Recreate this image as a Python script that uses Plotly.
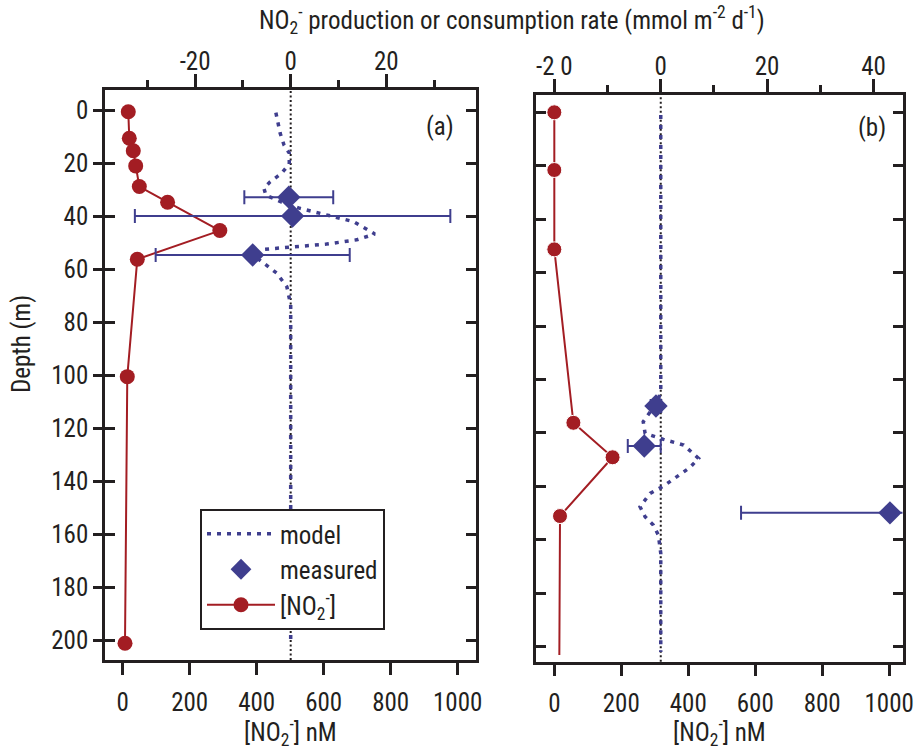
import plotly.graph_objects as go

# ---------------- data ----------------
# Panel (a)
no2_a_conc = [16.7, 19.7, 31.6, 38.8, 49.6, 134, 290, 43.6, 13.7, 6.9]
no2_a_depth = [0.5, 10.5, 15.2, 20.9, 28.7, 34.6, 45.3, 56.1, 100.4, 201]

meas_a_rate = [-0.4, 0.4, -7.95]
meas_a_depth = [32.7, 39.8, 54.5]
meas_a_err = [9.3, 33.0, 20.3]

model_a_rate = [-3.1, -2.2, -1.4, -0.3, -0.3, -1.9, -4.3, -5.6, -5.2, -2.0, 1.9, 7.5, 13.1,
                17.6, 13.8, 7.5, -0.1, -5.7, -7.5, -5.7, -2.9, -0.8, 0.0, 0.0]
model_a_depth = [0.8, 8.6, 13.0, 16.1, 20.2, 23.7, 26.9, 29.3, 31.9, 34.5, 36.9, 39.4, 41.9,
                 46.6, 48.8, 50.4, 51.4, 52.4, 55.0, 57.6, 61.4, 66.5, 73.4, 200]

# Panel (b)
no2_b_conc = [0, 0, 0, 57, 174, 17, 15]
no2_b_depth = [0, 21.6, 51.3, 116.2, 129.1, 151.1, 203.1]

meas_b_rate = [-0.9, -3.1, 43.1]
meas_b_depth = [109.9, 124.9, 149.9]
meas_b_err = [1.0, 3.1, 28.0]

model_b_rate = [0.0, 0.0, -0.5, -2.0, -3.3, -2.95, 0.5, 4.3, 7.1, 5.5, 3.0, 0.5, -2.0, -3.9,
                -2.95, -1.4, -0.45, 0.0, 0.0]
model_b_depth = [1.0, 104, 108, 112, 115.8, 120.1, 122.4, 124.5, 129.5, 132.9, 136.4, 139.9,
                 142.6, 147.6, 151.3, 154.5, 158.2, 165, 202]

depth_ticks = [0, 20, 40, 60, 80, 100, 120, 140, 160, 180, 200]
conc_ticks = [0, 200, 400, 600, 800, 1000]
rate_a_ticks = [-20, 0, 20]
rate_a_ticktext = ["-20", "0", "20"]
rate_a_minor = [-30, -10, 10, 30]
rate_b_ticks = [-20, 0, 20, 40]
rate_b_ticktext = ["-2 0", "0", "20", "40"]
rate_b_minor = [-10, 10, 30]

# ---------------- style ----------------
BLUE = "#3F3E8E"
RED = "#A31D23"
INK = "#231F20"
FONT = "Roboto Condensed, Roboto, sans-serif"
FS = 25
W, H = 916, 749

def px_x(p):
    return p / W

def px_y(p):
    return 1 - p / H

fig = go.Figure()

# Panel (a)
fig.add_trace(go.Scatter(x=model_a_rate, y=model_a_depth, xaxis="x2", yaxis="y",
                         mode="lines", name="model", legendgroup="model",
                         line=dict(color=BLUE, width=3.5, dash="4px,6px")))
fig.add_trace(go.Scatter(x=meas_a_rate, y=meas_a_depth, xaxis="x2", yaxis="y",
                         mode="markers", name="measured", legendgroup="measured",
                         marker=dict(symbol="diamond", size=18, color=BLUE, opacity=1),
                         error_x=dict(type="data", array=meas_a_err, color=BLUE,
                                      thickness=2, width=7)))
fig.add_trace(go.Scatter(x=no2_a_conc, y=no2_a_depth, xaxis="x", yaxis="y",
                         mode="lines+markers", name="[NO<sub>2</sub><sup>-</sup>]",
                         legendgroup="no2",
                         line=dict(color=RED, width=2),
                         marker=dict(symbol="circle", size=15, color=RED, opacity=1)))

# Panel (b)
fig.add_trace(go.Scatter(x=model_b_rate, y=model_b_depth, xaxis="x4", yaxis="y2",
                         mode="lines", showlegend=False,
                         line=dict(color=BLUE, width=3.5, dash="4px,6px")))
fig.add_trace(go.Scatter(x=meas_b_rate, y=meas_b_depth, xaxis="x4", yaxis="y2",
                         mode="markers", showlegend=False,
                         marker=dict(symbol="diamond", size=18, color=BLUE, opacity=1),
                         error_x=dict(type="data", array=meas_b_err, color=BLUE,
                                      thickness=2, width=7)))
fig.add_trace(go.Scatter(x=no2_b_conc, y=no2_b_depth, xaxis="x3", yaxis="y2",
                         mode="lines+markers", showlegend=False,
                         line=dict(color=RED, width=2),
                         marker=dict(symbol="circle", color=RED, opacity=1,
                                     size=[15] * (len(no2_b_conc) - 1) + [0])))

# dummy trace for overlay tick axis
fig.add_trace(go.Scatter(x=[None], y=[None], xaxis="x", yaxis="y3", showlegend=False))

tickfont = dict(family=FONT, size=FS, color=INK)
common = dict(showgrid=False, zeroline=False, showline=True, linewidth=2.5,
              linecolor=INK, tickwidth=2.5, tickcolor=INK, tickfont=tickfont,
              automargin=False, fixedrange=True)

ya_range = [207.3, -7.73]
yb_range = [205.6, -6.47]

fig.update_layout(
    width=W, height=H,
    margin=dict(l=0, r=0, t=0, b=0),
    paper_bgcolor="white", plot_bgcolor="white",
    font=dict(family=FONT, color=INK),
    xaxis=dict(domain=[px_x(105), px_x(476)], anchor="y", range=[-52.8, 1054.6],
               tickmode="array", tickvals=conc_ticks, ticks="outside", ticklen=12,
               ticklabelstandoff=6, **common),
    xaxis2=dict(overlaying="x", side="top", anchor="y", range=[-38.85, 38.77],
                tickmode="array", tickvals=rate_a_ticks, ticktext=rate_a_ticktext,
                ticks="outside", ticklen=13, ticklabelstandoff=-6,
                minor=dict(tickmode="array", tickvals=rate_a_minor, ticks="outside",
                           ticklen=7, tickwidth=2.5, tickcolor=INK),
                **common),
    yaxis=dict(domain=[px_y(660), px_y(90)], anchor="x", range=ya_range,
               tickmode="array", tickvals=depth_ticks, ticks="outside", ticklen=9,
               mirror=True, **common),
    yaxis3=dict(overlaying="y", anchor="x", range=ya_range, tickmode="array",
                tickvals=depth_ticks, ticks="inside", ticklen=10, mirror="ticks",
                showticklabels=False, **common),
    xaxis3=dict(domain=[px_x(536), px_x(902.5)], anchor="y2", range=[-54.7, 1039.8],
                tickmode="array", tickvals=conc_ticks, ticks="outside", ticklen=12,
                ticklabelstandoff=6, **common),
    xaxis4=dict(overlaying="x3", side="top", anchor="y2", range=[-23.46, 45.46],
                tickmode="array", tickvals=rate_b_ticks, ticktext=rate_b_ticktext,
                ticks="outside", ticklen=13, ticklabelstandoff=-6,
                minor=dict(tickmode="array", tickvals=rate_b_minor, ticks="outside",
                           ticklen=7, tickwidth=2.5, tickcolor=INK),
                **common),
    yaxis2=dict(domain=[px_y(661.7), px_y(95)], anchor="x3", range=yb_range,
                tickmode="array", tickvals=depth_ticks, ticks="inside", ticklen=10,
                mirror="ticks", showticklabels=False, **common),
    legend=dict(x=px_x(200), y=px_y(509), xanchor="left", yanchor="top",
                bgcolor="white", bordercolor=INK, borderwidth=2,
                font=dict(family=FONT, size=FS, color=INK),
                itemwidth=68, tracegroupgap=2, traceorder="normal"),
    showlegend=True,
)

# zero-rate dotted lines
fig.add_shape(type="line", xref="x2", yref="y domain", x0=0, x1=0, y0=0, y1=1,
              line=dict(color=INK, width=2, dash="2px,2.5px"), layer="below")
fig.add_shape(type="line", xref="x4", yref="y2 domain", x0=0, x1=0, y0=0, y1=1,
              line=dict(color=INK, width=2, dash="2px,2.5px"), layer="below")

ann_font = dict(family=FONT, size=FS, color=INK)
fig.add_annotation(text="NO<sub>2</sub><sup>-</sup> production or consumption rate (mmol m<sup>-2</sup> d<sup>-1</sup>)",
                   xref="paper", yref="paper", x=px_x(512), y=px_y(20),
                   showarrow=False, font=ann_font, xanchor="center", yanchor="middle")
fig.add_annotation(text="[NO<sub>2</sub><sup>-</sup>] nM", xref="paper", yref="paper",
                   x=px_x(290.5), y=px_y(732), showarrow=False, font=ann_font,
                   xanchor="center", yanchor="middle")
fig.add_annotation(text="[NO<sub>2</sub><sup>-</sup>] nM", xref="paper", yref="paper",
                   x=px_x(719), y=px_y(732), showarrow=False, font=ann_font,
                   xanchor="center", yanchor="middle")
fig.add_annotation(text="Depth (m)", xref="paper", yref="paper", x=px_x(22), y=px_y(344),
                   textangle=-90, showarrow=False, font=ann_font,
                   xanchor="center", yanchor="middle")
fig.add_annotation(text="(a)", xref="paper", yref="paper", x=px_x(440), y=px_y(126),
                   showarrow=False, font=ann_font, xanchor="center", yanchor="middle")
fig.add_annotation(text="(b)", xref="paper", yref="paper", x=px_x(872), y=px_y(127),
                   showarrow=False, font=ann_font, xanchor="center", yanchor="middle")

fig.write_html("out.html", config={"displayModeBar": False},
               post_script="document.body.style.margin='0';document.body.style.overflow='hidden';")
